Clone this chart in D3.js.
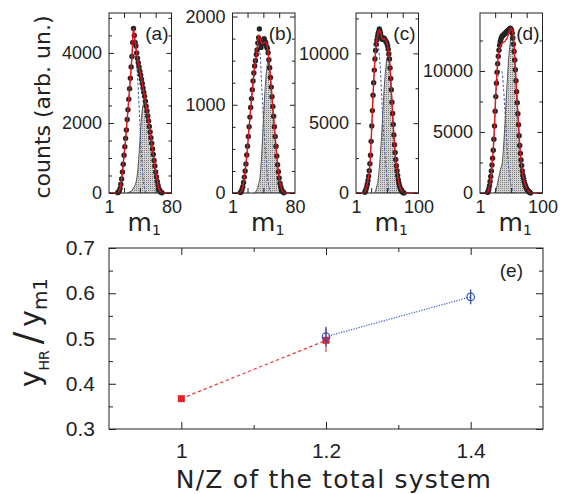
<!DOCTYPE html>
<html>
<head>
<meta charset="utf-8">
<script src="https://cdn.jsdelivr.net/npm/d3@7"></script>
<style>
  body { margin: 0; background: #fff; }
  text { fill: #222; }
</style>
</head>
<body>
<svg id="chart" width="563" height="494"></svg>
<script>
// ---------- data : panels (a)-(d), m1 distributions ----------
var panelNames = ["(a)", "(b)", "(c)", "(d)"];
var m1Max      = [80, 80, 100, 100];
var countMax   = [5140, 2040, 12890, 14750];
var countMajor = [2000, 1000, 5000, 5000];
var countMinor = [500, 250, 2500, 2500];
var m1TickStep = [20, 20, 25, 25];

// measured counts, one point per m1 value, first one at dotStart
var dotStart = [12, 11, 15, 13];
var dotsA = [10,30,60,130,250,400,600,820,1080,1320,1560,1800,2100,2380,2680,2980,3280,3600,3900,4300,4700,4500,4300,4200,4000,3850,3720,3600,3480,3370,3250,3130,3000,2880,2760,2620,2480,2340,2200,2060,1900,1740,1580,1420,1260,1100,930,770,600,460,330,220,130,70,35,15,5];
var dotsB = [5,15,40,70,120,180,250,330,430,530,640,750,860,970,1070,1170,1270,1360,1440,1500,1570,1620,1700,1760,1860,1720,1650,1690,1730,1700,1750,1720,1700,1660,1640,1590,1510,1420,1310,1200,1090,980,870,750,640,530,420,320,240,170,110,70,40,20,10,3];
var dotsC = [50,150,280,450,650,900,1200,1600,2100,2700,3700,4800,5900,7000,7900,8800,9600,10200,10650,10950,11200,11400,11550,11750,11600,11400,11200,11050,11000,11050,11100,11050,10950,10900,10800,10750,10550,10300,9950,9600,8950,8200,7400,6500,5700,4900,4150,3450,2900,2400,1950,1600,1250,950,700,500,360,250,160,100,55,25,8];
var dotsD = [50,150,330,600,950,1350,1800,2300,2850,3500,4400,5500,6700,7900,9000,9900,10600,11200,11700,12100,12400,12600,12750,12850,12900,12950,13000,13050,13100,13150,13200,13250,13300,13350,13400,13450,13500,13450,13350,13100,12700,12200,11600,10900,10100,9200,8300,7400,6500,5600,4700,3900,3250,2700,2250,1800,1450,1200,950,750,580,450,340,250,180,130,80,40,10];

// fitted curves, one value every fitStep units of m1
var fitStep = 2;
var totalStart = [10, 10, 14, 12];   // red: total fit
var totalA = [0,10,60,250,600,1080,1560,2100,2680,3280,3900,4700,4350,4000,3720,3480,3250,3000,2760,2480,2200,1900,1580,1260,930,600,330,130,35,5,0];
var totalB = [0,15,70,180,330,520,740,960,1160,1350,1500,1620,1790,1760,1690,1700,1710,1690,1600,1420,1200,960,740,520,320,170,75,25,5,0];
var totalC = [0,150,500,950,1500,2700,4800,7000,8800,10200,10950,11400,11650,11500,11080,11000,11050,10950,10750,10300,9600,8200,6500,4900,3450,2400,1600,950,500,250,100,30,0];
var totalD = [0,150,550,1200,2200,3500,5600,8200,10000,11200,11850,12100,12250,12350,12400,12550,12700,13000,13300,13500,13350,12700,11100,9200,7400,5600,3900,2700,1800,1200,750,450,250,130,50,0];

var lightStart = [10, 10, 14, 12];   // blue dashed: lighter component
var lightA = [0,10,60,250,600,1080,1560,2100,2660,3240,3830,4550,4150,3650,2950,2000,1100,450,110,0];
var lightB = [0,15,70,180,330,520,740,950,1140,1310,1440,1540,1650,1560,1200,850,560,320,120,40,0];
var lightC = [0,150,500,950,1500,2700,4650,6900,8700,9900,10500,10600,9800,8500,6600,4800,3300,2100,1100,500,80,0];
var lightD = [0,150,550,1200,2200,3500,5500,7700,9000,9700,10000,10050,9900,8800,7200,5400,3700,2300,1400,700,300,80,0];

var heavyStart = [24, 28, 30, 24];   // grey shaded: heavier component
var heavyA = [0,20,40,70,150,230,400,800,1480,2150,2500,2600,2480,2200,1900,1580,1260,930,600,330,130,35,5,0];
var heavyB = [0,10,40,100,200,450,820,1150,1380,1500,1390,1190,960,740,520,320,170,75,25,5,0];
var heavyC = [0,150,500,900,1850,3000,4450,6200,7750,8850,9650,9800,9500,8200,6500,4900,3450,2400,1600,950,500,250,100,30,0];
var heavyD = [0,200,600,1100,1600,2050,2400,3550,5200,7150,9000,10700,11900,12800,13050,12620,11100,9200,7400,5600,3900,2700,1800,1200,750,450,250,130,50,0];

// ---------- data : panel (e) ----------
var nzRed = [1.0, 1.2], ratioRed = [0.367, 0.496], errRed = [0.006, 0.026];
var nzBlue = [1.2, 1.4], ratioBlue = [0.504, 0.592], errBlue = [0.022, 0.0165];
var nzLabels = [1, 1.2, 1.4];
var nzMinor = [1.1, 1.3];
var ratioLabels = [0.3, 0.4, 0.5, 0.6, 0.7];

var dots = [dotsA, dotsB, dotsC, dotsD];
var totals = [totalA, totalB, totalC, totalD];
var lights = [lightA, lightB, lightC, lightD];
var heavies = [heavyA, heavyB, heavyC, heavyD];

var svg = d3.select("#chart");
var tickFont = "Liberation Sans, Arial, sans-serif";
var titleFont = "DejaVu Sans, sans-serif";

// stipple for the grey component
var pat = svg.append("defs").append("pattern")
    .attr("id", "stipple").attr("width", 2).attr("height", 2)
    .attr("patternUnits", "userSpaceOnUse");
pat.append("rect").attr("width", 2).attr("height", 2).attr("fill", "#d2d2d2");
pat.append("rect").attr("width", 1).attr("height", 1).attr("fill", "#7e7e7e");

function toPoints(vals, start, step) {
  return vals.map(function(v, i) { return {m: start + i * step, v: v}; });
}

// inward ticks on all four sides
function frameTicks(g, x, y, xMajor, xMinor, yMajor, yMinor, left, right, top, bottom, lenMaj, lenMin) {
  function add(axis, tr, vals, len) {
    g.append("g").attr("transform", tr)
      .call(axis.tickValues(vals).tickSize(-len).tickFormat(""))
      .call(function(s) { s.select(".domain").remove(); s.selectAll("line").attr("stroke", "#222"); });
  }
  add(d3.axisLeft(y), "translate(" + left + ",0)", yMajor, lenMaj);
  add(d3.axisLeft(y), "translate(" + left + ",0)", yMinor, lenMin);
  add(d3.axisRight(y), "translate(" + right + ",0)", yMajor, lenMaj);
  add(d3.axisRight(y), "translate(" + right + ",0)", yMinor, lenMin);
  add(d3.axisTop(x), "translate(0," + top + ")", xMajor, lenMaj);
  add(d3.axisTop(x), "translate(0," + top + ")", xMinor, lenMin);
  add(d3.axisBottom(x), "translate(0," + bottom + ")", xMajor, lenMaj);
  add(d3.axisBottom(x), "translate(0," + bottom + ")", xMinor, lenMin);
}

// ---------- panels (a)-(d) ----------
var pLeft = [109, 232.5, 356, 480], pWidth = 62.5, pTop = 13, pBottom = 193;

panelNames.forEach(function(name, i) {
  var g = svg.append("g");
  var x = d3.scaleLinear().domain([1, m1Max[i]]).range([pLeft[i], pLeft[i] + pWidth]);
  var y = d3.scaleLinear().domain([0, countMax[i]]).range([pBottom, pTop]);

  var heavyPts = toPoints(heavies[i], heavyStart[i], fitStep);
  var lightPts = toPoints(lights[i], lightStart[i], fitStep);
  var totalPts = [{m: 1, v: 0}].concat(toPoints(totals[i], totalStart[i], fitStep), [{m: m1Max[i], v: 0}]);
  var dotPts = toPoints(dots[i], dotStart[i], 1);

  var area = d3.area().x(function(d) { return x(d.m); }).y0(y(0)).y1(function(d) { return y(d.v); })
      .curve(d3.curveMonotoneX);
  var line = d3.line().x(function(d) { return x(d.m); }).y(function(d) { return y(d.v); })
      .curve(d3.curveMonotoneX);

  g.append("path").attr("d", area(heavyPts)).attr("fill", "url(#stipple)");
  g.append("path").attr("d", line(heavyPts)).attr("fill", "none").attr("stroke", "#333").attr("stroke-width", 0.8);
  g.append("path").attr("d", line(lightPts)).attr("fill", "none").attr("stroke", "#3b57b0")
      .attr("stroke-width", 1).attr("stroke-dasharray", "2.5,2");

  g.selectAll("circle.dot").data(dotPts).enter().append("circle")
      .attr("class", "dot")
      .attr("cx", function(d) { return x(d.m); })
      .attr("cy", function(d) { return y(d.v); })
      .attr("r", 2.7).attr("fill", "#262626");

  g.append("path").attr("d", line(totalPts)).attr("fill", "none").attr("stroke", "#e3131b").attr("stroke-width", 1.4);

  // frame
  g.append("rect").attr("x", pLeft[i]).attr("y", pTop).attr("width", pWidth).attr("height", pBottom - pTop)
      .attr("fill", "none").attr("stroke", "#222").attr("stroke-width", 1);

  var yMaj = d3.range(0, countMax[i] + 1, countMajor[i]);
  var yMin = d3.range(0, countMax[i] + 1, countMinor[i]).filter(function(v) { return v % countMajor[i] !== 0; });
  var xMaj = d3.range(m1TickStep[i], m1Max[i], m1TickStep[i]);
  frameTicks(g, x, y, xMaj, [], yMaj, yMin, pLeft[i], pLeft[i] + pWidth, pTop, pBottom, 5, 3);

  // labels
  g.append("g").attr("transform", "translate(" + pLeft[i] + ",0)")
    .call(d3.axisLeft(y).tickValues(yMaj).tickSize(0).tickPadding(7).tickFormat(d3.format("d")))
    .call(function(s) { s.select(".domain").remove(); s.selectAll("text").attr("font-size", 18).attr("font-family", tickFont).attr("fill", "#222"); });
  g.append("g").attr("transform", "translate(0," + pBottom + ")")
    .call(d3.axisBottom(x).tickValues([1, m1Max[i]]).tickSize(0).tickPadding(7).tickFormat(d3.format("d")))
    .call(function(s) { s.select(".domain").remove(); s.selectAll("text").attr("font-size", 18).attr("font-family", tickFont).attr("fill", "#222"); });

  g.append("text").attr("x", pLeft[i] + pWidth - 3).attr("y", 40)
      .attr("text-anchor", "end").attr("font-size", 19).attr("font-family", tickFont).text(name);

  var ml = g.append("text").attr("x", pLeft[i] + pWidth / 2 + 4).attr("y", 231)
      .attr("text-anchor", "middle").attr("font-family", titleFont);
  ml.append("tspan").attr("font-size", 25).text("m");
  ml.append("tspan").attr("font-size", 14).attr("dy", 4).text("1");
});

svg.append("text").attr("transform", "translate(50,107) rotate(-90)")
    .attr("text-anchor", "middle").attr("font-size", 22).attr("font-family", titleFont)
    .text("counts (arb. un.)");

// ---------- panel (e) ----------
var eLeft = 109, eRight = 543, eTop = 248, eBottom = 429;
var xe = d3.scaleLinear().domain([0.9, 1.5]).range([eLeft, eRight]);
var ye = d3.scaleLinear().domain([0.3, 0.7]).range([eBottom, eTop]);
var ge = svg.append("g");

ge.append("rect").attr("x", eLeft).attr("y", eTop).attr("width", eRight - eLeft).attr("height", eBottom - eTop)
    .attr("fill", "none").attr("stroke", "#222").attr("stroke-width", 1);
frameTicks(ge, xe, ye, nzLabels, nzMinor, ratioLabels, [0.35, 0.45, 0.55, 0.65], eLeft, eRight, eTop, eBottom, 7, 4);

ge.append("g").attr("transform", "translate(" + eLeft + ",0)")
  .call(d3.axisLeft(ye).tickValues(ratioLabels).tickSize(0).tickPadding(14).tickFormat(d3.format(".1f")))
  .call(function(s) { s.select(".domain").remove(); s.selectAll("text").attr("font-size", 21).attr("font-family", tickFont).attr("fill", "#222"); });
ge.append("g").attr("transform", "translate(0," + eBottom + ")")
  .call(d3.axisBottom(xe).tickValues(nzLabels).tickSize(0).tickPadding(14).tickFormat(function(d) { return d3.format("")(d); }))
  .call(function(s) { s.select(".domain").remove(); s.selectAll("text").attr("font-size", 21).attr("font-family", tickFont).attr("fill", "#222"); });

var redPts = nzRed.map(function(n, i) { return {x: n, y: ratioRed[i], e: errRed[i]}; });
var bluePts = nzBlue.map(function(n, i) { return {x: n, y: ratioBlue[i], e: errBlue[i]}; });
var eLine = d3.line().x(function(d) { return xe(d.x); }).y(function(d) { return ye(d.y); });

ge.append("path").attr("d", eLine(redPts)).attr("fill", "none").attr("stroke", "#ee3a3a")
    .attr("stroke-width", 1.3).attr("stroke-dasharray", "3.3,2.7");
ge.append("path").attr("d", eLine(bluePts)).attr("fill", "none").attr("stroke", "#4a62c0")
    .attr("stroke-width", 1.3).attr("stroke-dasharray", "1.2,1.4");

ge.selectAll("line.errR").data(redPts).enter().append("line").attr("class", "errR")
    .attr("x1", function(d) { return xe(d.x); }).attr("x2", function(d) { return xe(d.x); })
    .attr("y1", function(d) { return ye(d.y - d.e); }).attr("y2", function(d) { return ye(d.y + d.e); })
    .attr("stroke", "#e86a70").attr("stroke-width", 1.5);
ge.selectAll("rect.ptR").data(redPts).enter().append("rect").attr("class", "ptR")
    .attr("x", function(d) { return xe(d.x) - 3.5; }).attr("y", function(d) { return ye(d.y) - 3.5; })
    .attr("width", 7).attr("height", 7).attr("fill", "#e8202a");
ge.selectAll("line.errB").data(bluePts).enter().append("line").attr("class", "errB")
    .attr("x1", function(d) { return xe(d.x); }).attr("x2", function(d) { return xe(d.x); })
    .attr("y1", function(d) { return ye(d.y - d.e); }).attr("y2", function(d) { return ye(d.y + d.e); })
    .attr("stroke", "#3a4fa8").attr("stroke-width", 1.3);
ge.selectAll("circle.ptB").data(bluePts).enter().append("circle").attr("class", "ptB")
    .attr("cx", function(d) { return xe(d.x); }).attr("cy", function(d) { return ye(d.y); })
    .attr("r", 3.8).attr("fill", "none").attr("stroke", "#3a54b4").attr("stroke-width", 1.2);

ge.append("text").attr("x", 523).attr("y", 277).attr("text-anchor", "end")
    .attr("font-size", 19).attr("font-family", tickFont).text("(e)");

svg.append("text").attr("x", 334).attr("y", 488).attr("text-anchor", "middle")
    .attr("font-size", 25).attr("font-family", titleFont).attr("letter-spacing", 1.2)
    .text("N/Z of the total system");

var yl = svg.append("text").attr("transform", "translate(40,387) rotate(-90)").attr("font-family", titleFont);
yl.append("tspan").attr("font-size", 28).text("y");
yl.append("tspan").attr("font-size", 14).attr("dy", 9).text("HR");
yl.append("tspan").attr("font-size", 37).attr("dy", -9).attr("dx", 6).text("/");
yl.append("tspan").attr("font-size", 28).attr("dx", 5).text("y");
yl.append("tspan").attr("font-size", 20).attr("dy", 7).text("m1");
</script>
</body>
</html>
